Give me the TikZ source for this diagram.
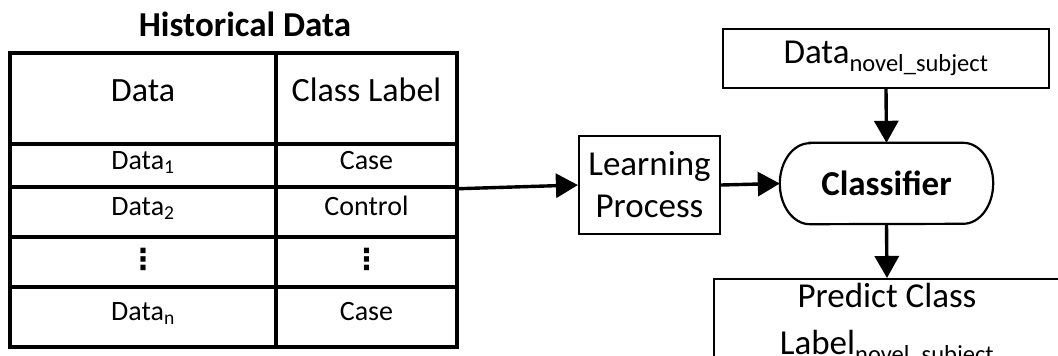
\documentclass[tikz,border=0pt]{standalone}
\usepackage{fontspec}
\setmainfont{Carlito}
\newfontfamily\dejavu{DejaVu Sans}
\usetikzlibrary{arrows.meta}

\begin{document}
\begin{tikzpicture}[x=1pt,y=-1pt,
  cell/.style={draw, line width=3.4pt, inner sep=0pt},
  hdr/.style={cell, font=\fontsize{34}{40}\selectfont, text height=.8em, text depth=.12em},
  rowtxt/.style={cell, font=\fontsize{28}{34}\selectfont, text height=.85em, text depth=.1em},
  dotcell/.style={cell, font=\dejavu\bfseries\fontsize{29}{34}\selectfont, text height=.75em, text depth=.12em},
  box/.style={draw, line width=2.2pt, inner sep=0pt, align=center, font=\fontsize{35}{42}\selectfont},
  flow/.style={line width=3.4pt, -{Triangle[length=22pt,width=24pt]}},
]
\useasboundingbox (0,0) rectangle (1058,356);
\clip (0,0) rectangle (1058,356);

% title over the table
\node[font=\bfseries\fontsize{35}{42}\selectfont, anchor=base] (title) at (245,36) {Historical Data};

% table of historical data: column A = data, column B = class label
\node[hdr, minimum width=266pt, minimum height=91pt] (a0) at (143,98.5) {Data};
\node[hdr, minimum width=181pt, minimum height=91pt] (b0) at (366.5,98.5) {Class Label};
\node[rowtxt, minimum width=266pt, minimum height=43pt] (a1) at (143,165.5) {Data\textsubscript{1}};
\node[rowtxt, minimum width=181pt, minimum height=43pt] (b1) at (366.5,165.5) {Case};
\node[rowtxt, minimum width=266pt, minimum height=50pt] (a2) at (143,212) {Data\textsubscript{2}};
\node[rowtxt, minimum width=181pt, minimum height=50pt] (b2) at (366.5,212) {Control};
\node[dotcell, minimum width=266pt, minimum height=50pt] (a3) at (143,262) {\raisebox{-4pt}{⋮}};
\node[dotcell, minimum width=181pt, minimum height=50pt] (b3) at (366.5,262) {\raisebox{-4pt}{⋮}};
\node[rowtxt, minimum width=266pt, minimum height=60pt] (a4) at (143,317) {Data\textsubscript{n}};
\node[rowtxt, minimum width=181pt, minimum height=60pt] (b4) at (366.5,317) {Case};

% processing chain
\node[box, minimum width=141pt, minimum height=98pt] (learn) at (649.5,185) {Learning\\Process};
% classifier: text node, outlined below with elliptic ends
\node[inner sep=0pt, minimum width=213pt, minimum height=81pt,
      font=\bfseries\fontsize{35}{42}\selectfont] (cls) at (886.5,183.5) {Classifier};
\draw[line width=2.2pt]
  ([xshift=30pt]cls.north west) -- ([xshift=-30pt]cls.north east)
  arc[start angle=90, end angle=-90, x radius=30pt, y radius=40.5pt]
  -- ([xshift=30pt]cls.south west)
  arc[start angle=270, end angle=90, x radius=30pt, y radius=40.5pt]
  -- cycle;
\node[box, minimum width=326pt, minimum height=59pt] (novel) at (886,58.5) {Data\textsubscript{novel\_subject}};
\node[box, anchor=north, minimum width=346pt, inner ysep=4pt,
      font=\fontsize{35}{47}\selectfont] (pred) at (887,278) {Predict Class\\Label\textsubscript{novel\_subject}};

% connectors
\draw[flow] (b1.south east) -- (learn.west);
\draw[flow] (learn.east) -- (cls.west);
\draw[flow] (novel.south) -- (cls.north);
\draw[flow] (cls.south) -- (pred.north);
\end{tikzpicture}
\end{document}
